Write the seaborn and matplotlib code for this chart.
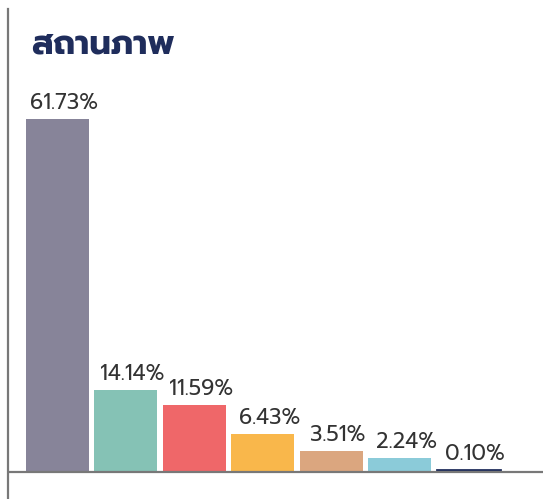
import matplotlib
matplotlib.use("Agg")
import matplotlib.pyplot as plt
import seaborn as sns
import pandas as pd

# --- données ---
title = "สถานภาพ"
categories = ["A", "B", "C", "D", "E", "F", "G"]
values = [61.73, 14.14, 11.59, 6.43, 3.51, 2.24, 0.10]
labels = ["61.73%", "14.14%", "11.59%", "6.43%", "3.51%", "2.24%", "0.10%"]
colors = ["#878499", "#85c2b5", "#ef6769", "#f9b74b", "#dba67f", "#8bcbd9", "#1f2d5c"]

df = pd.DataFrame({"cat": categories, "val": values})

sns.set_style("white")
plt.rcParams["font.family"] = ["Prompt", "DejaVu Sans"]

fig = plt.figure(figsize=(5.43, 4.99), dpi=100)
W, H = 543, 499
ax = fig.add_axes([7.5 / W, 0, 1 - 7.5 / W, (H - 9) / H])

sns.barplot(data=df, x="cat", y="val", hue="cat", palette=colors, legend=False,
            width=0.914, saturation=1, linewidth=0, ax=ax)

# échelle : 68.5 px par catégorie, 0 à 470.7 px
ax.set_xlim(-(57.3 - 7.5) / 68.5, (543 - 57.3) / 68.5)
px = 351.7 / 61.73
ax.set_ylim(-(H - 470.7) / px, (470.7 - 9) / px)

for sp in ["top", "right", "bottom"]:
    ax.spines[sp].set_visible(False)
ax.spines["left"].set_color("#787878")
ax.spines["left"].set_linewidth(1.6)
# ligne de base juste sous les barres
ax.axhline(-1.1 / px, color="#787878", lw=1.6, zorder=3)
ax.set_xticks([])
ax.set_yticks([])
ax.set_xlabel("")
ax.set_ylabel("")

# la plus petite barre reste visible (comme dans l'original)
ax.patches[-1].set_edgecolor(colors[-1])
ax.patches[-1].set_linewidth(2)

for p, lab in zip(ax.patches, labels):
    ax.annotate(lab, (p.get_x() + p.get_width() / 2, p.get_height()),
                xytext=(5, 7), textcoords="offset points",
                ha="center", va="baseline", fontsize=15.5,
                fontweight="normal", color="#333333")

fig.text(31 / W, 1 - 53 / H, title, fontsize=24.5, fontweight="bold",
         color="#1f2d5c", ha="left", va="baseline")

fig.savefig("out.png", dpi=100)
